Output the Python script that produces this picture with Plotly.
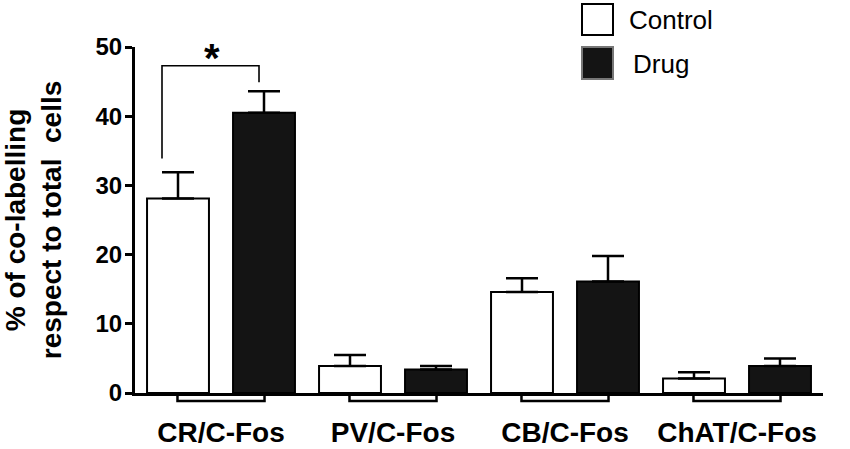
import plotly.graph_objects as go

# data
categories = ["CR/C-Fos", "PV/C-Fos", "CB/C-Fos", "ChAT/C-Fos"]
control_mean = [28.1, 3.9, 14.6, 2.1]
control_sem = [3.8, 1.6, 2.0, 0.9]
drug_mean = [40.5, 3.4, 16.1, 3.9]
drug_sem = [3.1, 0.5, 3.7, 1.1]
y_ticks = [0, 10, 20, 30, 40, 50]

W, H = 850, 449
L, R, T, B = 135, 27, 47, 55.5
pw, ph = W - L - R, H - T - B

def px(x):  # window pixel -> paper x
    return (x - L) / pw

def py(y):  # window pixel -> paper y
    return (H - B - y) / ph

FONT = "Liberation Sans, Arial, sans-serif"
BLACK = "#141414"

fig = go.Figure()
fig.add_trace(go.Bar(x=categories, y=control_mean, name="Control",
                     marker=dict(color="white", line=dict(color="black", width=2)),
                     error_y=dict(type="data", array=control_sem, arrayminus=[0]*4, symmetric=False,
                                  color="black", thickness=2.5, width=16)))
fig.add_trace(go.Bar(x=categories, y=drug_mean, name="Drug",
                     marker=dict(color=BLACK, line=dict(color="black", width=2)),
                     error_y=dict(type="data", array=drug_sem, arrayminus=[0]*4, symmetric=False,
                                  color="black", thickness=2.5, width=16)))

shapes = []
# GraphPad style bracket ticks under the x axis
for i, c in enumerate(categories):
    shapes.append(dict(type="path", xref="x", yref="paper",
                       path=f"M {i-0.253},0 L {i-0.253},{-8/ph} L {i+0.253},{-8/ph} L {i+0.253},0",
                       line=dict(color="black", width=2.5)))

# significance bracket CR/C-Fos
top = 47.3
left_bot = control_mean[0] + control_sem[0] + 2.0
right_bot = drug_mean[0] + drug_sem[0] + 1.3
shapes.append(dict(type="path", xref="x", yref="y",
                   path=f"M -0.343,{left_bot} L -0.343,{top} L 0.221,{top} L 0.221,{right_bot}",
                   line=dict(color="black", width=1.6)))

# legend boxes
shapes.append(dict(type="rect", xref="paper", yref="paper", x0=px(582), x1=px(613), y0=py(35), y1=py(4),
                   fillcolor="white", line=dict(color="black", width=2)))
shapes.append(dict(type="rect", xref="paper", yref="paper", x0=px(582), x1=px(613), y0=py(79), y1=py(47),
                   fillcolor=BLACK, line=dict(color="#777", width=2)))

annotations = [
    dict(x=-0.05, y=45.0, xref="x", yref="y", text="<b>*</b>", showarrow=False, yanchor="bottom",
         font=dict(size=40, family=FONT, color="black")),
    dict(x=px(627), y=py(20), xref="paper", yref="paper", text="Control", showarrow=False,
         xanchor="left", yanchor="middle", font=dict(size=26, family=FONT, color="black")),
    dict(x=px(631), y=py(64), xref="paper", yref="paper", text="Drug", showarrow=False,
         xanchor="left", yanchor="middle", font=dict(size=26, family=FONT, color="black")),
]

fig.update_layout(
    width=W, height=H,
    margin=dict(l=L, r=R, t=T, b=B, autoexpand=False),
    paper_bgcolor="white", plot_bgcolor="white",
    barmode="group", bargap=0, bargroupgap=0.28,
    showlegend=False,
    shapes=shapes, annotations=annotations,
    font=dict(family=FONT, color="black"),
)
fig.update_xaxes(range=[-0.5, 3.5], showline=True, linewidth=3, linecolor="black",
                 ticks="", showgrid=False, ticklabelstandoff=12, automargin=False,
                 tickfont=dict(size=28, family=FONT, weight="bold"))
fig.update_yaxes(range=[0, 50], tickvals=y_ticks, showline=True, linewidth=3, linecolor="black",
                 ticks="outside", ticklen=7, tickwidth=3, tickcolor="black",
                 showgrid=False, zeroline=False, automargin=False, ticklabelstandoff=-2,
                 tickfont=dict(size=24, family=FONT, weight="bold"),
                 title=dict(text="% of co-labelling<br>respect to total  cells", standoff=37,
                            font=dict(size=28, family=FONT, weight="bold")))

# drop the default body margin so the figure sits at the window corner
fig.write_html("out.html", config={"displayModeBar": False},
               post_script="document.body.style.margin='0px';")
